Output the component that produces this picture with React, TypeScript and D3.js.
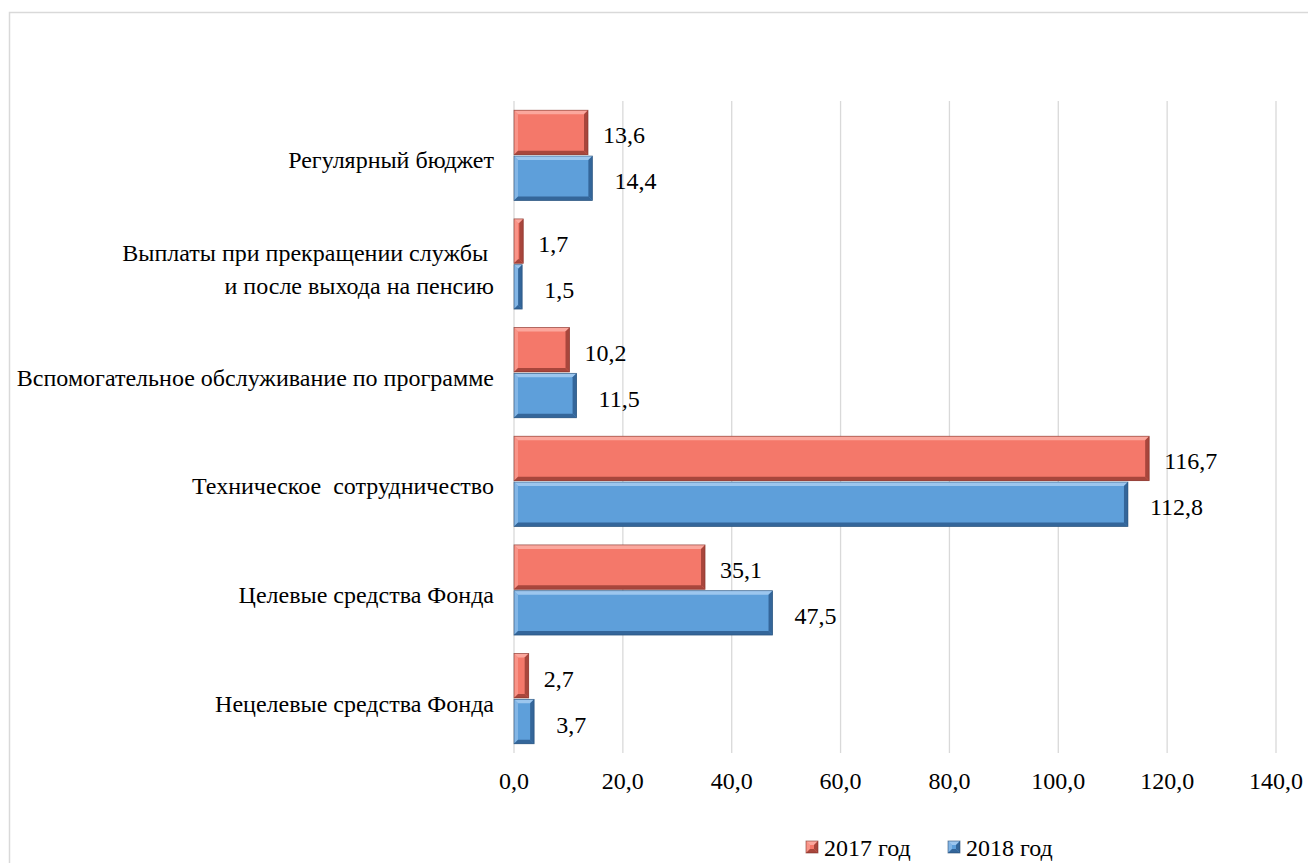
import * as d3 from "d3";
import * as React from "react";

const categories = [
  "Регулярный бюджет",
  "Выплаты при прекращении службы |и после выхода на пенсию",
  "Вспомогательное обслуживание по программе",
  "Техническое  сотрудничество",
  "Целевые средства Фонда",
  "Нецелевые средства Фонда",
];
const values2017 = [13.6, 1.7, 10.2, 116.7, 35.1, 2.7];
const values2018 = [14.4, 1.5, 11.5, 112.8, 47.5, 3.7];
const seriesNames = ["2017 год", "2018 год"];
const xTicks = [0, 20, 40, 60, 80, 100, 120, 140];

const W = 1308;
const H = 863;
const FONT = "'Liberation Serif'";
const FS = 24;
const txt = { fontFamily: FONT, fontSize: FS, whiteSpace: "pre" as const };

const palette = [
  { fill: "#F4786A", light: "#FBA79D", dark: "#A8463C", edge: "#7A2E27" },
  { fill: "#5E9FDA", light: "#9CC6EE", dark: "#34669A", edge: "#24486F" },
];

const fmt = (v: number) => v.toFixed(1).replace(".", ",");

// bar with a simple bevel: lighter top/left, darker bottom/right
function BevelBar({ x, y, w, h, c }: { x: number; y: number; w: number; h: number; c: typeof palette[0] }) {
  const b = Math.min(4, w / 2, h / 2);
  const x1 = x + w;
  const y1 = y + h;
  return (
    <g>
      <rect x={x} y={y} width={w} height={h} fill={c.fill} />
      <polygon points={`${x},${y} ${x1},${y} ${x1 - b},${y + b} ${x + b},${y + b}`} fill={c.light} />
      <polygon points={`${x},${y} ${x + b},${y + b} ${x + b},${y1 - b} ${x},${y1}`} fill={c.light} opacity={0.6} />
      <polygon points={`${x},${y1} ${x + b},${y1 - b} ${x1 - b},${y1 - b} ${x1},${y1}`} fill={c.dark} />
      <polygon points={`${x1},${y} ${x1},${y1} ${x1 - b},${y1 - b} ${x1 - b},${y + b}`} fill={c.dark} />
      <rect x={x} y={y} width={w} height={h} fill="none" stroke={c.edge} strokeWidth={0.8} opacity={0.7} />
    </g>
  );
}

export default function App() {
  const left = 514;
  const right = 1276;
  const top = 101;
  const bottom = 753;

  const x = d3.scaleLinear().domain([0, 140]).range([left, right]);
  const y = d3.scaleBand<string>().domain(categories).range([top, bottom]).paddingInner(0.17).paddingOuter(0.085);
  const inner = d3.scaleBand<number>().domain([0, 1]).range([0, y.bandwidth()]).paddingInner(0.03);

  const series = [values2017, values2018];

  return (
    <svg width={W} height={H} style={{ position: "absolute", left: 0, top: 0, display: "block", background: "#fff" }}>
      <rect x={9.5} y={12.5} width={W} height={H} fill="#fff" stroke="#d9d9d9" strokeWidth={1.5} />

      {/* gridlines */}
      {xTicks.map((t) => (
        <line key={t} x1={x(t)} x2={x(t)} y1={top} y2={bottom} stroke="#d9d9d9" strokeWidth={1.3} />
      ))}

      {/* category labels */}
      {categories.map((cat) => {
        const lines = cat.split("|");
        const cy = (y(cat) as number) + y.bandwidth() / 2 + 5;
        return (
          <text key={cat} x={494} y={cy} textAnchor="end" style={txt} fill="#000" dominantBaseline="central">
            {lines.map((ln, i) => (
              <tspan key={i} x={494} dy={i === 0 ? (-(lines.length - 1) * 33) / 2 : 33}>
                {ln}
              </tspan>
            ))}
          </text>
        );
      })}

      {/* bars */}
      {series.map((vals, si) =>
        vals.map((v, i) => {
          const by = (y(categories[i]) as number) + (inner(si) as number);
          const bh = inner.bandwidth();
          return (
            <g key={`${si}-${i}`}>
              <BevelBar x={x(0)} y={by} w={x(v) - x(0)} h={bh} c={palette[si]} />
              <text x={x(v) + (si === 0 ? 15 : 22)} y={by + bh / 2 + 3} style={txt} dominantBaseline="central" fill="#000">
                {fmt(v)}
              </text>
            </g>
          );
        })
      )}

      {/* x tick labels */}
      {xTicks.map((t) => (
        <text key={t} x={x(t)} y={781} textAnchor="middle" style={txt} dominantBaseline="central" fill="#000">
          {fmt(t)}
        </text>
      ))}

      {/* legend */}
      {seriesNames.map((name, si) => {
        const lx = si === 0 ? 806 : 948;
        return (
          <g key={name}>
            <BevelBar x={lx} y={841} w={12} h={12} c={palette[si]} />
            <text x={lx + 18} y={848} style={txt} dominantBaseline="central" fill="#000">
              {name}
            </text>
          </g>
        );
      })}
    </svg>
  );
}
